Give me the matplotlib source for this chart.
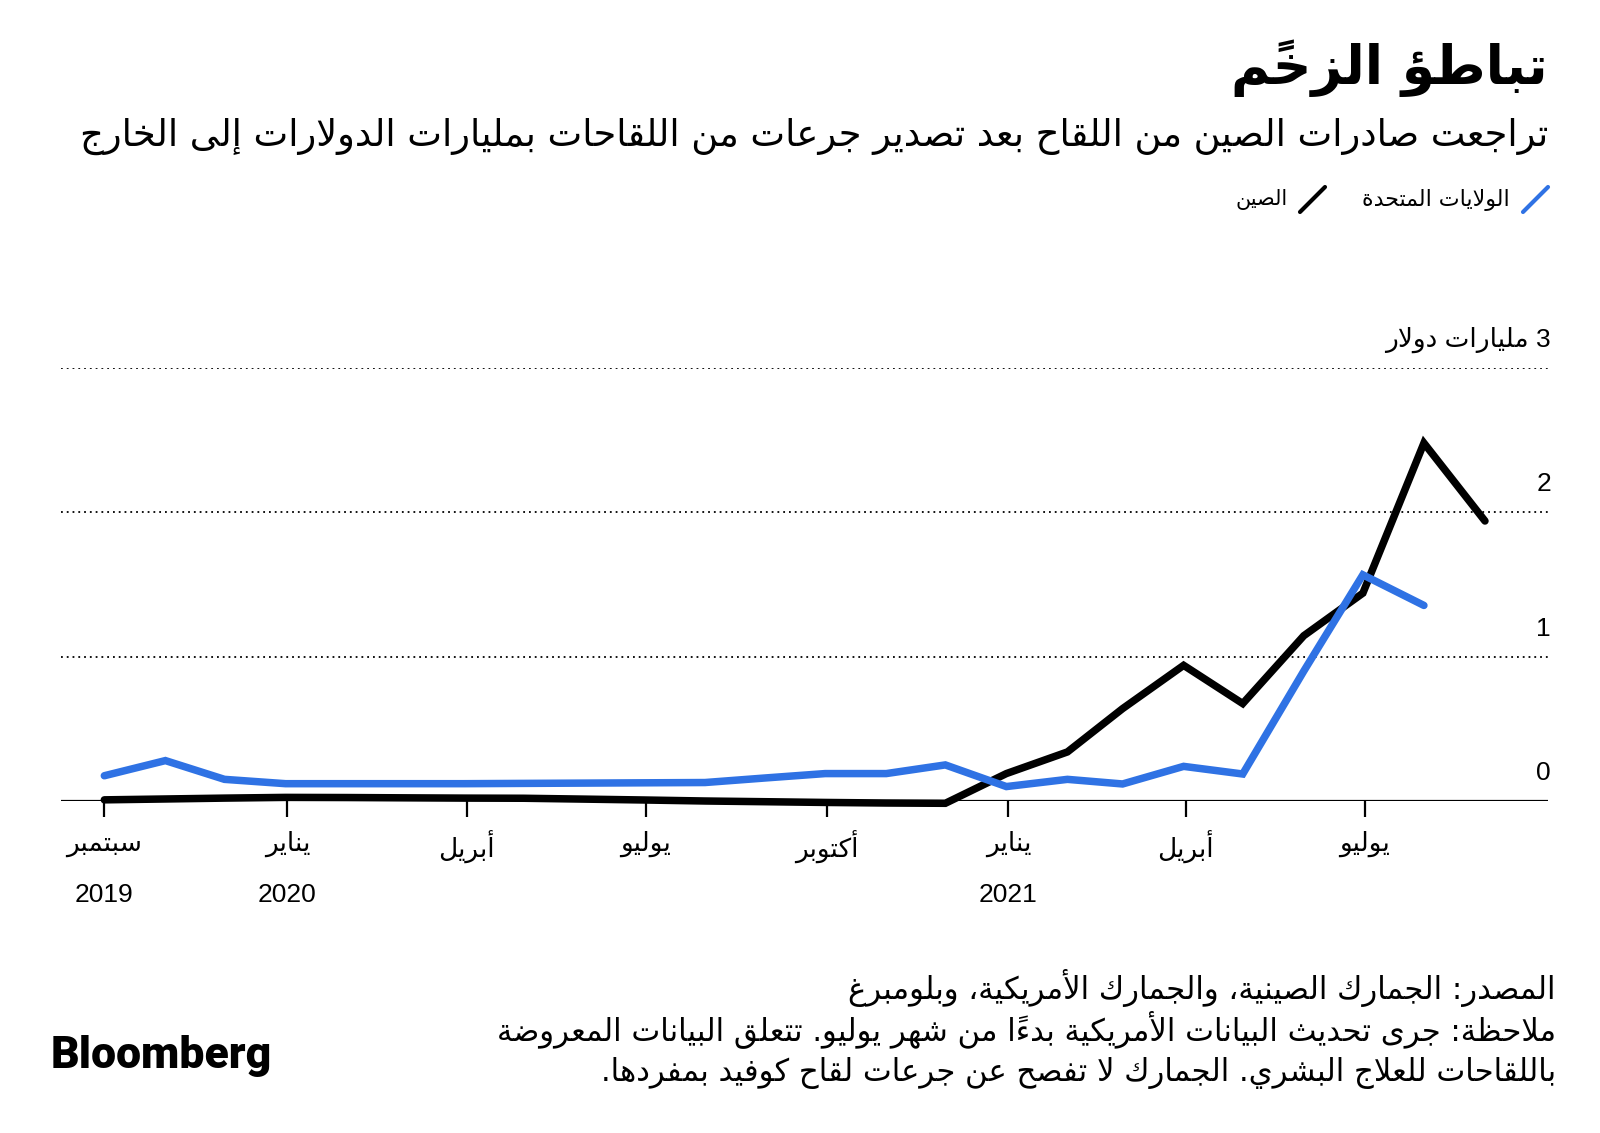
import matplotlib
matplotlib.use("Agg")
import matplotlib.pyplot as plt
import pandas as pd
from matplotlib.transforms import ScaledTranslation
from matplotlib.lines import Line2D

# ---------------- data ----------------
months = ["2019-09", "2019-10", "2019-11", "2019-12",
          "2020-01", "2020-02", "2020-03", "2020-04", "2020-05", "2020-06",
          "2020-07", "2020-08", "2020-09", "2020-10", "2020-11", "2020-12",
          "2021-01", "2021-02", "2021-03", "2021-04", "2021-05", "2021-06",
          "2021-07", "2021-08"]
china = [0.008, 0.014, 0.02, 0.025, 0.024, 0.022, 0.02, 0.019, 0.013, 0.007,
         0.0, -0.005, -0.01, -0.014, -0.016, 0.19, 0.34, 0.64, 0.94, 0.675,
         1.145, 1.44, 2.48, 1.94]
us = [0.175, 0.28, 0.15, 0.12, 0.12, 0.12, 0.12, 0.122, 0.124, 0.126,
      0.128, 0.16, 0.19, 0.19, 0.25, 0.10, 0.15, 0.118, 0.24, 0.187,
      0.90, 1.567, 1.355]
tick_dates = ["2019-09-30", "2020-01-01", "2020-04-01", "2020-07-01",
              "2020-10-01", "2021-01-01", "2021-04-01", "2021-07-01"]
tick_months = ["سبتمبر", "يناير", "أبريل", "يوليو", "أكتوبر", "يناير", "أبريل", "يوليو"]
tick_years = ["2019", "2020", "", "", "", "2021", "", ""]
y_ticks = [0, 1, 2, 3]
y_labels = ["0", "1", "2", "3 مليارات دولار"]
series_names = ["الولايات المتحدة", "الصين"]
title = "تباطؤ الزخمً"
subtitle = "تراجعت صادرات الصين من اللقاح بعد تصدير جرعات من اللقاحات بمليارات الدولارات إلى الخارج"
notes = ["المصدر: الجمارك الصينية، والجمارك الأمريكية، وبلومبرغ",
         "ملاحظة: جرى تحديث البيانات الأمريكية بدءاً من شهر يوليو. تتعلق البيانات المعروضة",
         "باللقاحات للعلاج البشري. الجمارك لا تفصح عن جرعات لقاح كوفيد بمفردها."]
logo = "Bloomberg"

# ---------------- minimal Arabic shaping + RTL ordering ----------------
DUAL = {0x0626: 0xFE89, 0x0628: 0xFE8F, 0x062A: 0xFE95, 0x062B: 0xFE99, 0x062C: 0xFE9D,
        0x062D: 0xFEA1, 0x062E: 0xFEA5, 0x0633: 0xFEB1, 0x0634: 0xFEB5, 0x0635: 0xFEB9,
        0x0636: 0xFEBD, 0x0637: 0xFEC1, 0x0638: 0xFEC5, 0x0639: 0xFEC9, 0x063A: 0xFECD,
        0x0641: 0xFED1, 0x0642: 0xFED5, 0x0643: 0xFED9, 0x0644: 0xFEDD, 0x0645: 0xFEE1,
        0x0646: 0xFEE5, 0x0647: 0xFEE9, 0x064A: 0xFEF1}
RIGHT = {0x0622: 0xFE81, 0x0623: 0xFE83, 0x0624: 0xFE85, 0x0625: 0xFE87, 0x0627: 0xFE8D,
         0x0629: 0xFE93, 0x062F: 0xFEA9, 0x0630: 0xFEAB, 0x0631: 0xFEAD, 0x0632: 0xFEAF,
         0x0648: 0xFEED, 0x0649: 0xFEEF}
NONJ = {0x0621: 0xFE80}
LAMALEF = {0x0622: 0xFEF5, 0x0623: 0xFEF7, 0x0625: 0xFEF9, 0x0627: 0xFEFB}


def _is_mark(ch):
    o = ord(ch)
    return 0x064B <= o <= 0x0652 or o == 0x0670


def _jtype(c):
    if c.startswith("LA"):
        return "R"
    o = ord(c)
    if o in DUAL or o == 0x0640:
        return "D"
    if o in RIGHT:
        return "R"
    return "U"


def ar(text):
    cl = []
    for ch in text:
        if _is_mark(ch) and cl:
            cl[-1][1] += ch
        else:
            cl.append([ch, ""])
    merged = []
    i = 0
    while i < len(cl):
        c, m = cl[i]
        if ord(c[0]) == 0x0644 and i + 1 < len(cl) and ord(cl[i + 1][0]) in LAMALEF:
            merged.append(["LA" + cl[i + 1][0], m + cl[i + 1][1]])
            i += 2
        else:
            merged.append([c, m])
            i += 1
    n = len(merged)
    out = []
    for i, (c, m) in enumerate(merged):
        t = _jtype(c)
        jp = i > 0 and _jtype(merged[i - 1][0]) == "D" and t in "DR"
        jn = t == "D" and i + 1 < n and _jtype(merged[i + 1][0]) in "DR"
        if c.startswith("LA"):
            g = chr(LAMALEF[ord(c[2])] + (1 if jp else 0))
        else:
            o = ord(c)
            if o in DUAL:
                b = DUAL[o]
                g = chr(b + (3 if (jp and jn) else 1 if jp else 2 if jn else 0))
            elif o in RIGHT:
                g = chr(RIGHT[o] + (1 if jp else 0))
            elif o in NONJ:
                g = chr(NONJ[o])
            else:
                g = c
        out.append([g, m])
    out.reverse()
    res = []
    run = []
    for g, m in out:
        if g.isascii() and g.isalnum():
            run.append([g, m])
        else:
            if run:
                res.extend(run[::-1])
                run = []
            res.append([g, m])
    if run:
        res.extend(run[::-1])
    return "".join(g + m for g, m in res)


# ---------------- figure ----------------
W, H = 1600, 1133
fig = plt.figure(figsize=(W / 100, H / 100), dpi=100)
fig.patch.set_facecolor("white")
R = fig.canvas.get_renderer()
AR = ["DejaVu Sans"]
NUM = ["Liberation Sans", "DejaVu Sans"]
BLUE = "#2f72e4"


def fx(x):
    return x / W


def fy(y):
    return 1 - y / H


def put(x, y, s, size=20, width=None, ha="right", va="center", **kw):
    t = fig.text(fx(x), fy(y), s, ha=ha, va=va, fontsize=size, **kw)
    if width:
        bb = t.get_window_extent(renderer=R)
        t.set_fontsize(size * width / bb.width)
    return t


ax = fig.add_axes([fx(61), fy(801), (1548 - 61) / W, (801 - 368) / H])
dates = pd.to_datetime(months) + pd.offsets.MonthEnd(0)
ax.set_xlim(dates[0] - pd.Timedelta(days=22), dates[-1] + pd.Timedelta(days=32))
ax.set_ylim(0, 3)
for s in ax.spines.values():
    s.set_visible(False)

for v in y_ticks[1:]:
    ax.axhline(v, color="black", lw=1.3, linestyle=(0, (1, 2.2)), zorder=1)
ax.axhline(0, color="black", lw=1.6, zorder=2)

ax.plot(dates, china, color="black", lw=5.4, solid_joinstyle="miter",
        solid_capstyle="round", zorder=3, clip_on=False)
ax.plot(dates[:len(us)], us, color=BLUE, lw=5.4, solid_joinstyle="miter",
        solid_capstyle="round", zorder=4, clip_on=False)

tdt = pd.to_datetime(tick_dates)
ax.set_xticks(tdt)
ax.set_xticklabels([ar(m) for m in tick_months], family=AR, fontsize=19)
ax.tick_params(axis="x", direction="out", length=11.5, width=1.6, color="black", pad=10)
ax.set_yticks([])
for d, yr in zip(tdt, tick_years):
    if yr:
        ax.text(d, 0, yr, ha="center", va="center", family=NUM, fontsize=19,
                transform=ax.get_xaxis_transform() + ScaledTranslation(0, -0.94, fig.dpi_scale_trans))

for v, lab in zip(y_ticks, y_labels):
    ax.text(1.0, v, ar(lab), ha="right", va="baseline", family=NUM, fontsize=19,
            transform=ax.get_yaxis_transform() + ScaledTranslation(0.03, 0.21, fig.dpi_scale_trans))

put(1548, 68, ar(title), size=40, width=317, family=AR, fontweight="bold")
put(1548, 136, ar(subtitle), size=28, width=1468, family=AR)

fig.add_artist(Line2D([fx(1523), fx(1548)], [fy(212), fy(187)], color=BLUE, lw=3,
                      solid_capstyle="round"))
fig.add_artist(Line2D([fx(1300), fx(1325)], [fy(212), fy(187)], color="black", lw=3,
                      solid_capstyle="round"))
put(1510, 200, ar(series_names[0]), size=16, width=148, family=AR)
put(1288, 200, ar(series_names[1]), size=16, width=52, family=AR)

t2 = put(1556, 1029, ar(notes[1]), size=20, width=1059, family=AR)
ns = t2.get_fontsize()
put(1556, 988, ar(notes[0]), size=ns, family=AR)
put(1556, 1073, ar(notes[2]), size=ns, family=AR)

put(51, 1056, logo, size=30, width=221, ha="left", family=["Roboto", "DejaVu Sans"],
    fontweight="black")

fig.savefig("out.png", dpi=100, facecolor="white")
